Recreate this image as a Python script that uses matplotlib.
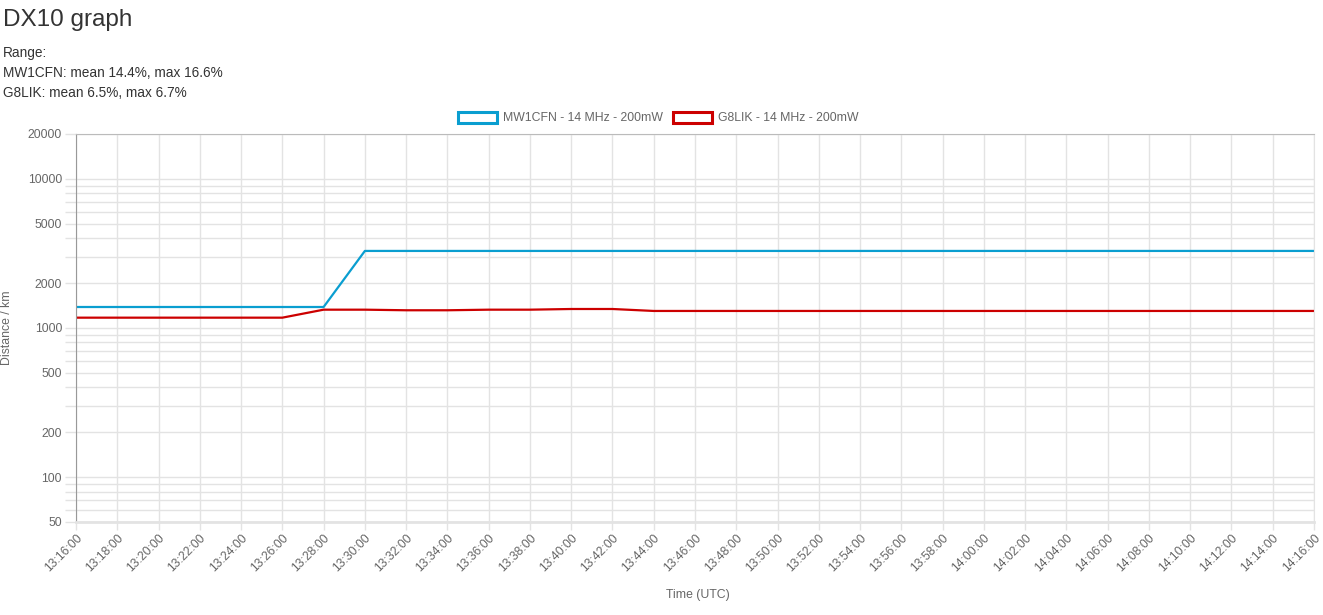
import pandas as pd
import matplotlib
matplotlib.use("Agg")
import matplotlib.pyplot as plt
from matplotlib.patches import Patch
from matplotlib.ticker import FixedLocator, NullFormatter

plt.rcParams['font.family'] = ['Liberation Sans', 'DejaVu Sans']

# data
times = pd.date_range("2024-01-01 13:16:00", "2024-01-01 14:16:00", freq="2min")
time_labels = [t.strftime("%H:%M:%S") for t in times]

mw1cfn = [1383] * 7 + [3287] * 24
g8lik = ([1173] * 6
         + [1327, 1327, 1315, 1315, 1327, 1327, 1341, 1341]
         + [1301] * 17)

series_names = ["MW1CFN - 14 MHz - 200mW", "G8LIK - 14 MHz - 200mW"]
series_colors = ["#0a9ed0", "#cc0000"]

y_major = [50, 100, 200, 500, 1000, 2000, 5000, 10000, 20000]
y_minor = [60, 70, 80, 90, 300, 400, 600, 700, 800, 900,
           3000, 4000, 6000, 7000, 8000, 9000]

info_lines = ["Range:",
              "MW1CFN: mean 14.4%, max 16.6%",
              "G8LIK: mean 6.5%, max 6.7%"]

W, H = 1323, 615
fig = plt.figure(figsize=(W / 100, H / 100), dpi=100)
ax = fig.add_axes([76 / W, 1 - 522 / H, (1314 - 76) / W, (522 - 134) / H])

x = list(range(len(time_labels)))
ax.plot(x, mw1cfn, color=series_colors[0], lw=1.6)
ax.plot(x, g8lik, color=series_colors[1], lw=1.6)

ax.set_yscale("log")
ax.set_ylim(50, 20000)
ax.set_xlim(0, len(x) - 1)
ax.yaxis.set_major_locator(FixedLocator(y_major))
ax.yaxis.set_minor_locator(FixedLocator(y_minor))
ax.set_yticklabels([str(v) for v in y_major])
ax.yaxis.set_minor_formatter(NullFormatter())
ax.set_xticks(x)
ax.set_xticklabels(time_labels, rotation=45, ha="right", rotation_mode="anchor")

grid_c = "#e3e3e3"
ax.grid(True, which="both", color=grid_c, lw=1)
ax.set_axisbelow(True)
ax.tick_params(axis="both", which="both", length=8, width=1, color=grid_c,
               labelsize=8.8, labelcolor="#666666", pad=2)
ax.tick_params(axis="x", length=6, pad=1)

ax.spines["left"].set_color("#999999")
ax.spines["top"].set_color("#bbbbbb")
ax.spines["right"].set_color(grid_c)
ax.spines["bottom"].set_color(grid_c)
ax.spines["bottom"].set_linewidth(2)

fig.text(7 / W, 1 - 328 / H, "Distance / km", rotation=90, ha="center",
         va="center", fontsize=8.8, color="#666666")
fig.text(698 / W, 1 - 595 / H, "Time (UTC)", ha="center", va="center",
         fontsize=8.8, color="#666666")

fig.text(3 / W, 1 - 20 / H, "DX10 graph", ha="left", va="center",
         fontsize=17.5, color="#333333")
for i, line in enumerate(info_lines):
    fig.text(3 / W, 1 - (53 + 20 * i) / H, line, ha="left", va="center",
             fontsize=9.8, color="#333333")

handles = [Patch(facecolor="white", edgecolor=c, linewidth=2.2) for c in series_colors]
fig.legend(handles, series_names, loc="center", ncol=2, frameon=False,
           bbox_to_anchor=(658 / W, 1 - 118 / H), fontsize=8.8,
           labelcolor="#666666", handlelength=3.2, handleheight=1.0,
           handletextpad=0.5, columnspacing=0.8)

fig.savefig("out.png", dpi=100)
